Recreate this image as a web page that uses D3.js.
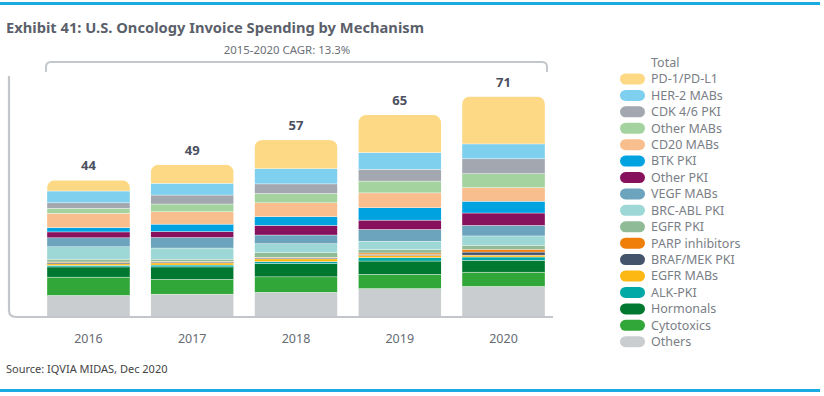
<!DOCTYPE html>
<html>
<head>
<meta charset="utf-8">
<script src="https://cdn.jsdelivr.net/npm/d3@7"></script>
<style>
  body { margin: 0; background: #fff; }
  svg { display: block; font-family: "Noto Sans", "Open Sans", sans-serif; }
</style>
</head>
<body>
<div id="chart"></div>
<script>
// Chart data (USD billions), series listed top of stack first, as in legend
const years = ['2016', '2017', '2018', '2019', '2020'];
const totals = [44, 49, 57, 65, 71];
const seriesNames = ['PD-1/PD-L1', 'HER-2 MABs', 'CDK 4/6 PKI', 'Other MABs', 'CD20 MABs',
    'BTK PKI', 'Other PKI', 'VEGF MABs', 'BRC-ABL PKI', 'EGFR PKI', 'PARP inhibitors',
    'BRAF/MEK PKI', 'EGFR MABs', 'ALK-PKI', 'Hormonals', 'Cytotoxics', 'Others'];
const seriesColors = ['#FDD985', '#7FD0EE', '#A3A8B0', '#A5D39F', '#F9BE8E',
    '#00A3E0', '#87115C', '#6BA4BC', '#9DD7D6', '#8FBC96', '#F07F09',
    '#44546A', '#FDB813', '#00A9A5', '#00782F', '#31A639', '#C9CDD0'];
const values2016 = [3.5, 3.8, 1.8, 1.6, 4.6, 1.4, 1.9, 2.9, 4.0, 0.9, 0.2, 0.4, 0.5, 0.5, 3.3, 5.9, 6.8];
const values2017 = [6.0, 3.8, 2.9, 2.5, 4.0, 2.4, 1.9, 3.4, 3.6, 0.7, 0.2, 0.3, 0.7, 0.6, 4.0, 4.8, 7.2];
const values2018 = [9.3, 4.9, 3.1, 3.0, 4.5, 2.8, 3.1, 2.8, 2.9, 1.5, 0.2, 0.3, 0.9, 0.6, 4.3, 5.0, 7.8];
const values2019 = [12.2, 5.4, 3.8, 3.8, 4.8, 4.0, 3.0, 3.8, 2.7, 1.1, 0.5, 0.3, 0.7, 1.1, 4.3, 4.6, 9.0];
const values2020 = [15.3, 4.8, 4.8, 4.5, 4.4, 3.8, 4.0, 3.4, 3.0, 1.3, 0.9, 1.0, 0.6, 1.1, 3.8, 4.6, 9.7];
const cagrLabel = '2015-2020 CAGR: 13.3%';

const width = 824;
const height = 396;

const svg = d3.select('#chart')
    .append('svg')
    .attr('width', width)
    .attr('height', height);

// Blue rules top and bottom
svg.append('rect').attr('x', 0).attr('y', 2).attr('width', 820).attr('height', 3).attr('fill', '#1AABE2');
svg.append('rect').attr('x', 0).attr('y', 389).attr('width', 820).attr('height', 3).attr('fill', '#1AABE2');

// Title
svg.append('text')
    .attr('x', 6)
    .attr('y', 32.5)
    .attr('font-size', 14.7)
    .attr('font-weight', 'bold')
    .attr('fill', '#5B5F6B')
    .text('Exhibit 41: U.S. Oncology Invoice Spending by Mechanism');

// Build table for stacking
const valuesByYear = [values2016, values2017, values2018, values2019, values2020];
const table = years.map((y, i) => {
    const row = { year: y };
    seriesNames.forEach((s, j) => { row[s] = valuesByYear[i][j]; });
    return row;
});

const stack = d3.stack().keys(seriesNames.slice().reverse());
const layers = stack(table);

const x = d3.scaleBand()
    .domain(years)
    .range([36.6, 555.4])
    .paddingInner(0.2)
    .paddingOuter(0.1);

const y = d3.scaleLinear()
    .domain([0, 71])
    .range([316.5, 96.5]);

const color = d3.scaleOrdinal().domain(seriesNames).range(seriesColors);

// Clip paths with rounded top for each bar
const defs = svg.append('defs');
years.forEach((yr, i) => {
    defs.append('clipPath')
        .attr('id', 'clip' + yr)
        .append('rect')
        .attr('x', x(yr))
        .attr('y', y(totals[i]))
        .attr('width', x.bandwidth())
        .attr('height', y(0) - y(totals[i]) + 20)
        .attr('rx', 8);
});

// Bars
const barGroups = svg.append('g')
    .selectAll('g')
    .data(years)
    .join('g')
    .attr('clip-path', d => `url(#clip${d})`);

barGroups.each(function(yr, i) {
    const g = d3.select(this);
    layers.forEach(layer => {
        const d = layer[i];
        g.append('rect')
            .attr('x', x(yr))
            .attr('y', y(d[1]))
            .attr('width', x.bandwidth())
            .attr('height', Math.max(0, y(d[0]) - y(d[1])))
            .attr('fill', color(layer.key))
            .attr('stroke', '#fff')
            .attr('stroke-width', 0.5)
            .attr('stroke-opacity', 0.7);
    });
});

// Axis frame: left line rounding into baseline
const base = y(0) + 0.5;
svg.append('path')
    .attr('d', `M9,76 V${base - 7} Q9,${base} 16,${base} H553`)
    .attr('fill', 'none')
    .attr('stroke', '#C3C6CB')
    .attr('stroke-width', 2.2);

// Year labels
svg.append('g')
    .selectAll('text')
    .data(years)
    .join('text')
    .attr('x', d => x(d) + x.bandwidth() / 2)
    .attr('y', 343)
    .attr('text-anchor', 'middle')
    .attr('font-size', 12.5)
    .attr('fill', '#666B73')
    .text(d => d);

// Totals
svg.append('g')
    .selectAll('text')
    .data(years)
    .join('text')
    .attr('x', d => x(d) + x.bandwidth() / 2)
    .attr('y', (d, i) => y(totals[i]) - 10)
    .attr('text-anchor', 'middle')
    .attr('font-size', 13)
    .attr('font-weight', 'bold')
    .attr('fill', '#4A5060')
    .text((d, i) => totals[i]);

// CAGR bracket
svg.append('path')
    .attr('d', 'M46,72 V67 Q46,62 51,62 H542 Q547,62 547,67 V72')
    .attr('fill', 'none')
    .attr('stroke', '#C3C6CB')
    .attr('stroke-width', 2);

svg.append('text')
    .attr('x', 287)
    .attr('y', 54)
    .attr('text-anchor', 'middle')
    .attr('font-size', 11.4)
    .attr('fill', '#6B6F77')
    .text(cagrLabel);

// Legend
const legend = svg.append('g').attr('transform', 'translate(620, 0)');

legend.append('text')
    .attr('x', 31)
    .attr('y', 63)
    .attr('dy', '0.35em')
    .attr('font-size', 12.5)
    .attr('fill', '#7A7E86')
    .text('Total');

const items = legend.selectAll('g.item')
    .data(seriesNames)
    .join('g')
    .attr('class', 'item')
    .attr('transform', (d, i) => `translate(0, ${79 + i * 16.42})`);

items.append('rect')
    .attr('x', 0)
    .attr('y', -5.5)
    .attr('width', 25)
    .attr('height', 11)
    .attr('rx', 5.5)
    .attr('fill', d => color(d));

items.append('text')
    .attr('x', 31)
    .attr('dy', '0.35em')
    .attr('font-size', 12.5)
    .attr('fill', '#7A7E86')
    .text(d => d);

// Source
svg.append('text')
    .attr('x', 6)
    .attr('y', 373)
    .attr('font-size', 11)
    .attr('fill', '#444')
    .text('Source: IQVIA MIDAS, Dec 2020');
</script>
</body>
</html>
